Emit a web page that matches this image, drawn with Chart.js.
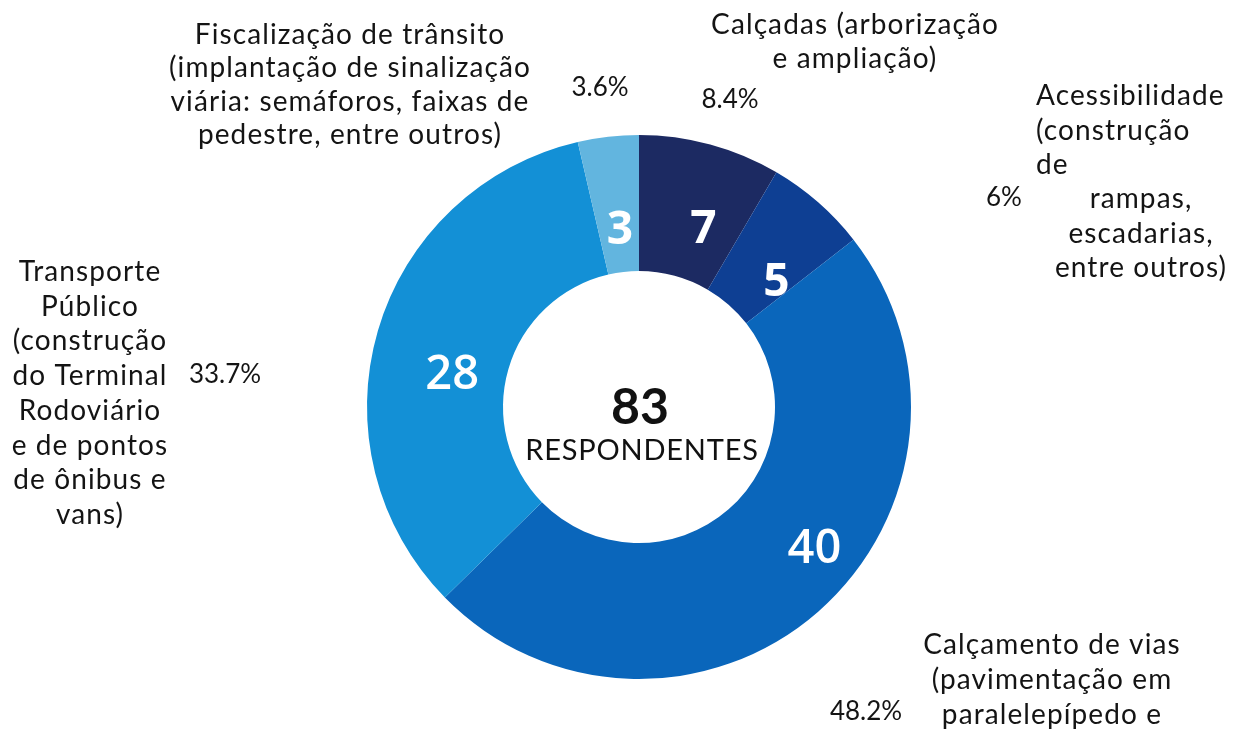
<!DOCTYPE html>
<html>
<head>
<meta charset="utf-8">
<script src="https://cdn.jsdelivr.net/npm/chart.js@4"></script>
<style>
  body { margin: 0; background: #fff; }
  #wrap { width: 1235px; height: 730px; }
</style>
</head>
<body>
<div id="wrap"><canvas id="my-chart" width="1235" height="730"></canvas></div>
<script>
// data (clockwise from 12 o'clock)
const categories = [
  'Calçadas (arborização e ampliação)',
  'Acessibilidade (construção de rampas, escadarias, entre outros)',
  'Calçamento de vias (pavimentação em paralelepípedo e',
  'Transporte Público (construção do Terminal Rodoviário e de pontos de ônibus e vans)',
  'Fiscalização de trânsito (implantação de sinalização viária: semáforos, faixas de pedestre, entre outros)'
];
const respondentCounts = [7, 5, 40, 28, 3];
const percentLabels = ['8.4%', '6%', '48.2%', '33.7%', '3.6%'];
const totalLabel = '83';
const totalCaption = 'RESPONDENTES';

const sliceColors = ['#1c2a62', '#0e3f93', '#0a66bb', '#1390d6', '#62b5df'];

// how each category name is broken and where it sits (relative to the doughnut centre)
const labelLayout = [
  { lines: ['Calçadas (arborização', 'e ampliação)'], x: 216, y: -382, gap: 34, align: 'center',
    pct: { x: 91, y: -307 } },
  { lines: ['Acessibilidade', '(construção', 'de'], x: 397, y: -311, gap: 34.5, align: 'left',
    extra: { lines: ['rampas,', 'escadarias,', 'entre outros)'], x: 502, y: -208, gap: 34.5 },
    pct: { x: 365, y: -209 } },
  { lines: ['Calçamento de vias', '(pavimentação em', 'paralelepípedo e'], x: 413, y: 238, gap: 35, align: 'center',
    pct: { x: 227, y: 305 } },
  { lines: ['Transporte', 'Público', '(construção', 'do Terminal', 'Rodoviário', 'e de pontos', 'de ônibus e', 'vans)'],
    x: -549, y: -135, gap: 34.7, align: 'center', pct: { x: -414, y: -32 } },
  { lines: ['Fiscalização de trânsito', '(implantação de sinalização', 'viária: semáforos, faixas de', 'pedestre, entre outros)'],
    x: -289, y: -372, gap: 33.3, align: 'center', pct: { x: -39, y: -319 } }
];

// nudges for the white counts from the slice centre point
const countNudge = [[11, 20], [3, 29], [41, -11], [9, 26], [4, 27]];
const countBold = [true, true, false, false, true];

const textColor = '#141414';
const labelFont = '28px Lato, "Open Sans", sans-serif';
const pctFont = '26px Lato, "Open Sans", sans-serif';

const annotations = {
  id: 'annotations',
  afterDatasetsDraw(chart) {
    const ctx = chart.ctx;
    const meta = chart.getDatasetMeta(0);
    const arc0 = meta.data[0];
    const cx = arc0.x, cy = arc0.y;
    ctx.save();
    ctx.textBaseline = 'middle';

    // counts inside the slices
    meta.data.forEach((arc, i) => {
      const p = arc.getCenterPoint();
      ctx.fillStyle = '#ffffff';
      ctx.textAlign = 'center';
      ctx.font = (countBold[i] ? 'bold 46px ' : '600 47px ') + '"Open Sans", sans-serif';
      ctx.fillText(String(respondentCounts[i]), p.x + countNudge[i][0], p.y + countNudge[i][1]);
    });

    // centre total
    ctx.fillStyle = '#111';
    ctx.textAlign = 'center';
    ctx.font = 'bold 50px Lato, sans-serif';
    ctx.fillText(totalLabel, cx + 1, cy + 1);
    ctx.font = '29px Lato, sans-serif';
    ctx.letterSpacing = '0.8px';
    ctx.fillText(totalCaption, cx + 3, cy + 44);

    // outside category names and percentages
    ctx.fillStyle = textColor;
    labelLayout.forEach((lab, i) => {
      ctx.font = labelFont;
      ctx.letterSpacing = '1.1px';
      ctx.textAlign = lab.align;
      lab.lines.forEach((t, j) => ctx.fillText(t, cx + lab.x, cy + lab.y + j * lab.gap));
      if (lab.extra) {
        ctx.textAlign = 'center';
        lab.extra.lines.forEach((t, j) => ctx.fillText(t, cx + lab.extra.x, cy + lab.extra.y + j * lab.extra.gap));
      }
      ctx.font = pctFont;
      ctx.letterSpacing = '0px';
      ctx.textAlign = 'center';
      ctx.fillText(percentLabels[i], cx + lab.pct.x, cy + lab.pct.y);
    });
    ctx.restore();
  }
};

const ctx = document.getElementById('my-chart').getContext('2d');
new Chart(ctx, {
  type: 'doughnut',
  data: {
    labels: categories,
    datasets: [{
      data: respondentCounts,
      backgroundColor: sliceColors,
      borderWidth: 0,
      hoverOffset: 0,
      offset: 0
    }]
  },
  options: {
    responsive: false,
    animation: false,
    cutout: '50%',
    rotation: 0,
    layout: { padding: { left: 367, right: 324, top: 135, bottom: 51 } },
    plugins: {
      legend: { display: false },
      tooltip: { enabled: false }
    },
    events: []
  },
  plugins: [annotations]
});
</script>
</body>
</html>
